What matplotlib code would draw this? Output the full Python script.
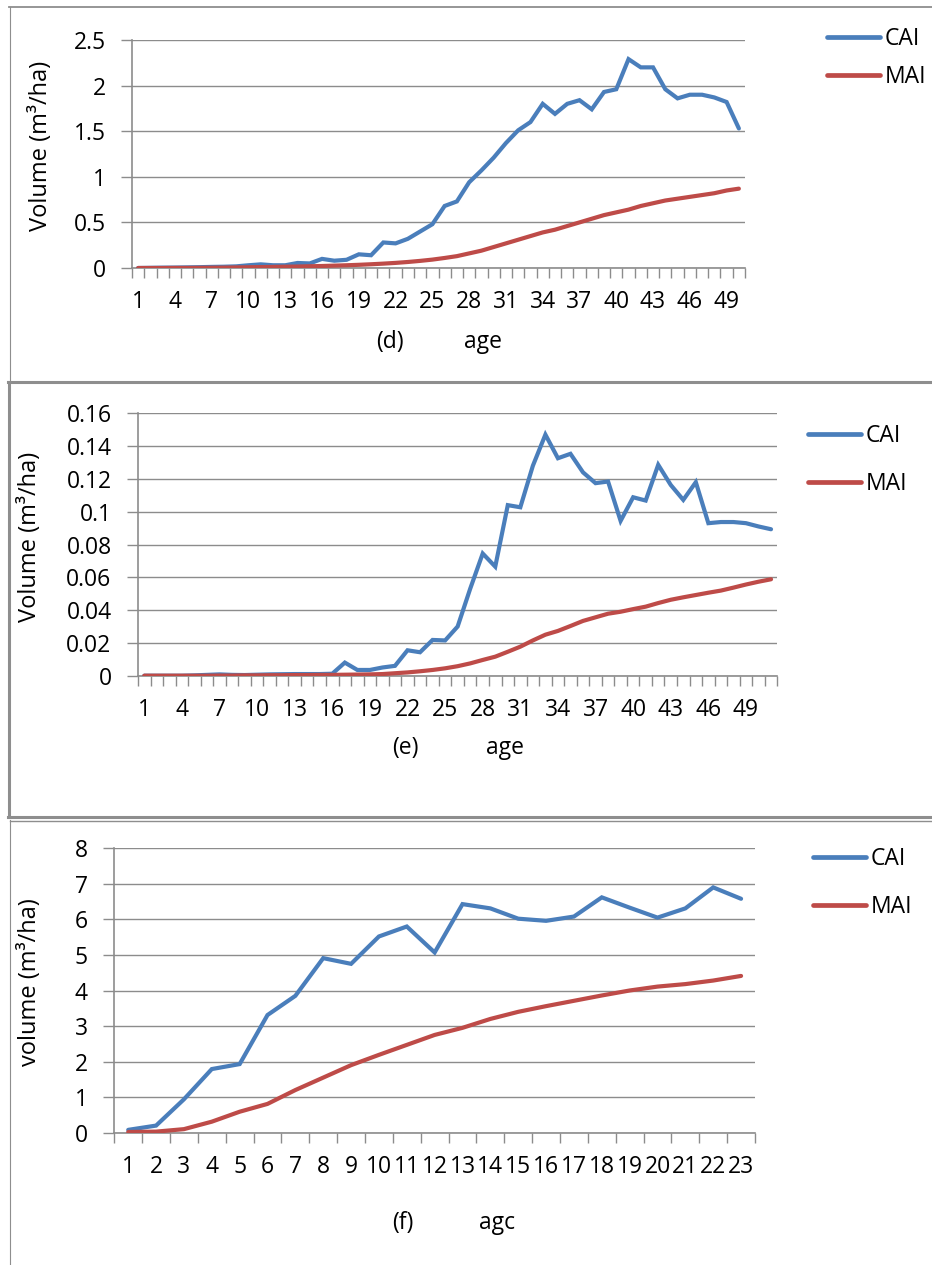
import matplotlib
matplotlib.use("Agg")
import matplotlib.pyplot as plt
from matplotlib.lines import Line2D
import numpy as np

plt.rcParams['font.family'] = ['Open Sans', 'DejaVu Sans']

# ---- data -------------------------------------------------------------
d_cai = [0.0, 0.002, 0.004, 0.005, 0.007, 0.009, 0.012, 0.014, 0.018, 0.03,
         0.04, 0.03, 0.03, 0.055, 0.05, 0.10, 0.08, 0.09, 0.15, 0.14,
         0.28, 0.27, 0.32, 0.40, 0.48, 0.68, 0.73, 0.94, 1.07, 1.21,
         1.37, 1.51, 1.60, 1.80, 1.69, 1.80, 1.84, 1.74, 1.93, 1.96,
         2.29, 2.20, 2.20, 1.96, 1.86, 1.90, 1.90, 1.87, 1.82, 1.53]
d_mai = [0.0, 0.0, 0.0, 0.001, 0.001, 0.002, 0.003, 0.004, 0.006, 0.008,
         0.010, 0.012, 0.014, 0.016, 0.019, 0.022, 0.026, 0.030, 0.035, 0.041,
         0.048, 0.056, 0.066, 0.078, 0.092, 0.11, 0.13, 0.16, 0.19, 0.23,
         0.27, 0.31, 0.35, 0.39, 0.42, 0.46, 0.50, 0.54, 0.58, 0.61,
         0.64, 0.68, 0.71, 0.74, 0.76, 0.78, 0.80, 0.82, 0.85, 0.87]

e_cai = [0.0, 0.0, 0.0, 0.0, 0.0002, 0.0005, 0.0008, 0.0005, 0.0004, 0.0006,
         0.0008, 0.0009, 0.001, 0.001, 0.001, 0.0012, 0.008, 0.0035, 0.0035, 0.005,
         0.006, 0.0155, 0.0143, 0.0218, 0.0215, 0.030, 0.053, 0.0745, 0.0665, 0.104,
         0.1027, 0.128, 0.147, 0.1326, 0.1353, 0.124, 0.1174, 0.1184, 0.0944, 0.1088,
         0.1068, 0.1286, 0.1163, 0.1072, 0.118, 0.093, 0.0937, 0.0937, 0.093, 0.091,
         0.0893]
e_mai = [0.0, 0.0, 0.0, 0.0, 0.0, 0.0, 0.0001, 0.0001, 0.0002, 0.0002,
         0.0003, 0.0003, 0.0004, 0.0004, 0.0005, 0.0005, 0.0006, 0.0007, 0.0008, 0.001,
         0.0015, 0.002, 0.0027, 0.0035, 0.0045, 0.0058, 0.0075, 0.0096, 0.0116, 0.0146,
         0.0177, 0.0215, 0.0250, 0.0273, 0.0303, 0.0334, 0.0356, 0.0378, 0.0390, 0.0406,
         0.0421, 0.0443, 0.0463, 0.0478, 0.0492, 0.0506, 0.0519, 0.0537, 0.0556, 0.0573,
         0.0588]

f_cai = [0.08, 0.2, 0.94, 1.79, 1.93, 3.31, 3.85, 4.91, 4.75, 5.52, 5.80, 5.07,
         6.43, 6.31, 6.02, 5.96, 6.08, 6.62, 6.33, 6.05, 6.31, 6.90, 6.58]
f_mai = [0.02, 0.03, 0.10, 0.31, 0.59, 0.81, 1.20, 1.55, 1.90, 2.19, 2.47, 2.75,
         2.95, 3.20, 3.40, 3.56, 3.71, 3.86, 4.00, 4.11, 4.18, 4.28, 4.41]

d_yticks = [0, 0.5, 1, 1.5, 2, 2.5]
d_ylabels = ["0", "0.5", "1", "1.5", "2", "2.5"]
e_yticks = [0, 0.02, 0.04, 0.06, 0.08, 0.1, 0.12, 0.14, 0.16]
e_ylabels = ["0", "0.02", "0.04", "0.06", "0.08", "0.1", "0.12", "0.14", "0.16"]
f_yticks = [0, 1, 2, 3, 4, 5, 6, 7, 8]
f_ylabels = [str(v) for v in f_yticks]

series_names = ["CAI", "MAI"]

# ---- styling ----------------------------------------------------------
W, H = 932, 1265
DPI = 100
BLUE = "#4A7EBB"
RED = "#BE4B48"
GRID = "#8C8C8C"
FS = 16.5

fig = plt.figure(figsize=(W / DPI, H / DPI), dpi=DPI)


def fx(px):
    return px / W


def fy(py):
    return 1 - py / H


def panel(left, right, top, bottom, cai, mai, yticks, ylabels, ymax,
          label_step, ylabel, ylabel_x, tag, tag_x, age_text, age_x, text_y,
          leg_x, leg_top, leg_gap):
    ax = fig.add_axes([fx(left), fy(bottom), fx(right - left), (bottom - top) / H])
    n = len(cai)
    x = np.arange(n)
    ax.plot(x, cai, color=BLUE, lw=3.0, solid_capstyle="round", solid_joinstyle="miter",
            label=series_names[0], zorder=3)
    ax.plot(x, mai, color=RED, lw=3.0, solid_capstyle="round", label=series_names[1],
            zorder=3)
    ax.set_xlim(-0.5, n - 0.5)
    ax.set_ylim(0, ymax)

    # category boundary ticks, labels at category centres
    ax.set_xticks(np.arange(n + 1) - 0.5)
    ax.set_xticklabels([])
    ax.tick_params(axis="x", which="major", length=7, width=1, color=GRID,
                   direction="out")
    lab_pos = np.arange(0, n, label_step)
    ax.set_xticks(lab_pos, minor=True)
    ax.set_xticklabels([str(i + 1) for i in lab_pos], minor=True)
    ax.tick_params(axis="x", which="minor", length=0, pad=16, labelsize=FS)

    ax.set_yticks(yticks)
    ax.set_yticklabels(ylabels)
    ax.tick_params(axis="y", length=8, width=1, color=GRID, pad=11, labelsize=FS)
    ax.grid(axis="y", color=GRID, lw=1)
    ax.set_axisbelow(True)
    for s in ("top", "right"):
        ax.spines[s].set_visible(False)
    for s in ("left", "bottom"):
        ax.spines[s].set_color(GRID)
        ax.spines[s].set_linewidth(1.2)

    ax.set_ylabel(ylabel, fontsize=FS + 0.5)
    ax.yaxis.set_label_coords(fx(ylabel_x), fy((top + bottom) / 2 - 8),
                              transform=fig.transFigure)
    ax.yaxis.label.set_va("center")

    fig.text(fx(tag_x), fy(text_y), tag, ha="center", va="center", fontsize=FS)
    fig.text(fx(age_x), fy(text_y), age_text, ha="center", va="center", fontsize=FS)

    handles = [Line2D([], [], color=BLUE, lw=3.4, solid_capstyle="round"),
               Line2D([], [], color=RED, lw=3.4, solid_capstyle="round")]
    ax.legend(handles, series_names, loc="upper left",
              bbox_to_anchor=(fx(leg_x), fy(leg_top)), bbox_transform=fig.transFigure,
              frameon=False, fontsize=FS, handlelength=2.3, handletextpad=0.2,
              borderpad=0, borderaxespad=0, labelspacing=leg_gap)
    return ax


panel(132, 745, 40, 268, d_cai, d_mai, d_yticks, d_ylabels, 2.5, 3,
      "Volume (m³/ha)", 41, "(d)", 390, "age", 483, 342, 827, 27, 0.6)
panel(138, 777.3, 413.3, 675.7, e_cai, e_mai, e_yticks, e_ylabels, 0.16, 3,
      "Volume (m³/ha)", 30, "(e)", 405, "age", 505, 748, 808, 424, 1.05)
panel(114.3, 755, 848.3, 1132.7, f_cai, f_mai, f_yticks, f_ylabels, 8, 1,
      "volume (m³/ha)", 30, "(f)", 403, "agc", 497, 1223, 813, 847, 1.05)

# frames around the three panels
def hline(y, x0, x1, lw, c):
    fig.add_artist(Line2D([fx(x0), fx(x1)], [fy(y), fy(y)], color=c, lw=lw,
                          transform=fig.transFigure))


def vline(x, y0, y1, lw, c):
    fig.add_artist(Line2D([fx(x), fx(x)], [fy(y0), fy(y1)], color=c, lw=lw,
                          transform=fig.transFigure))


FRAME = "#8E8E8E"
hline(7, 9, W, 1.3, FRAME)
vline(9.5, 7, 381, 0.8, FRAME)
hline(382, 8, W, 2.2, FRAME)
vline(9, 382, 817, 2.2, FRAME)
hline(816.5, 8, W, 2.2, FRAME)
hline(820.5, 10, W, 1.0, FRAME)
vline(10, 820, H, 0.8, FRAME)

fig.savefig("out.png", dpi=DPI)
